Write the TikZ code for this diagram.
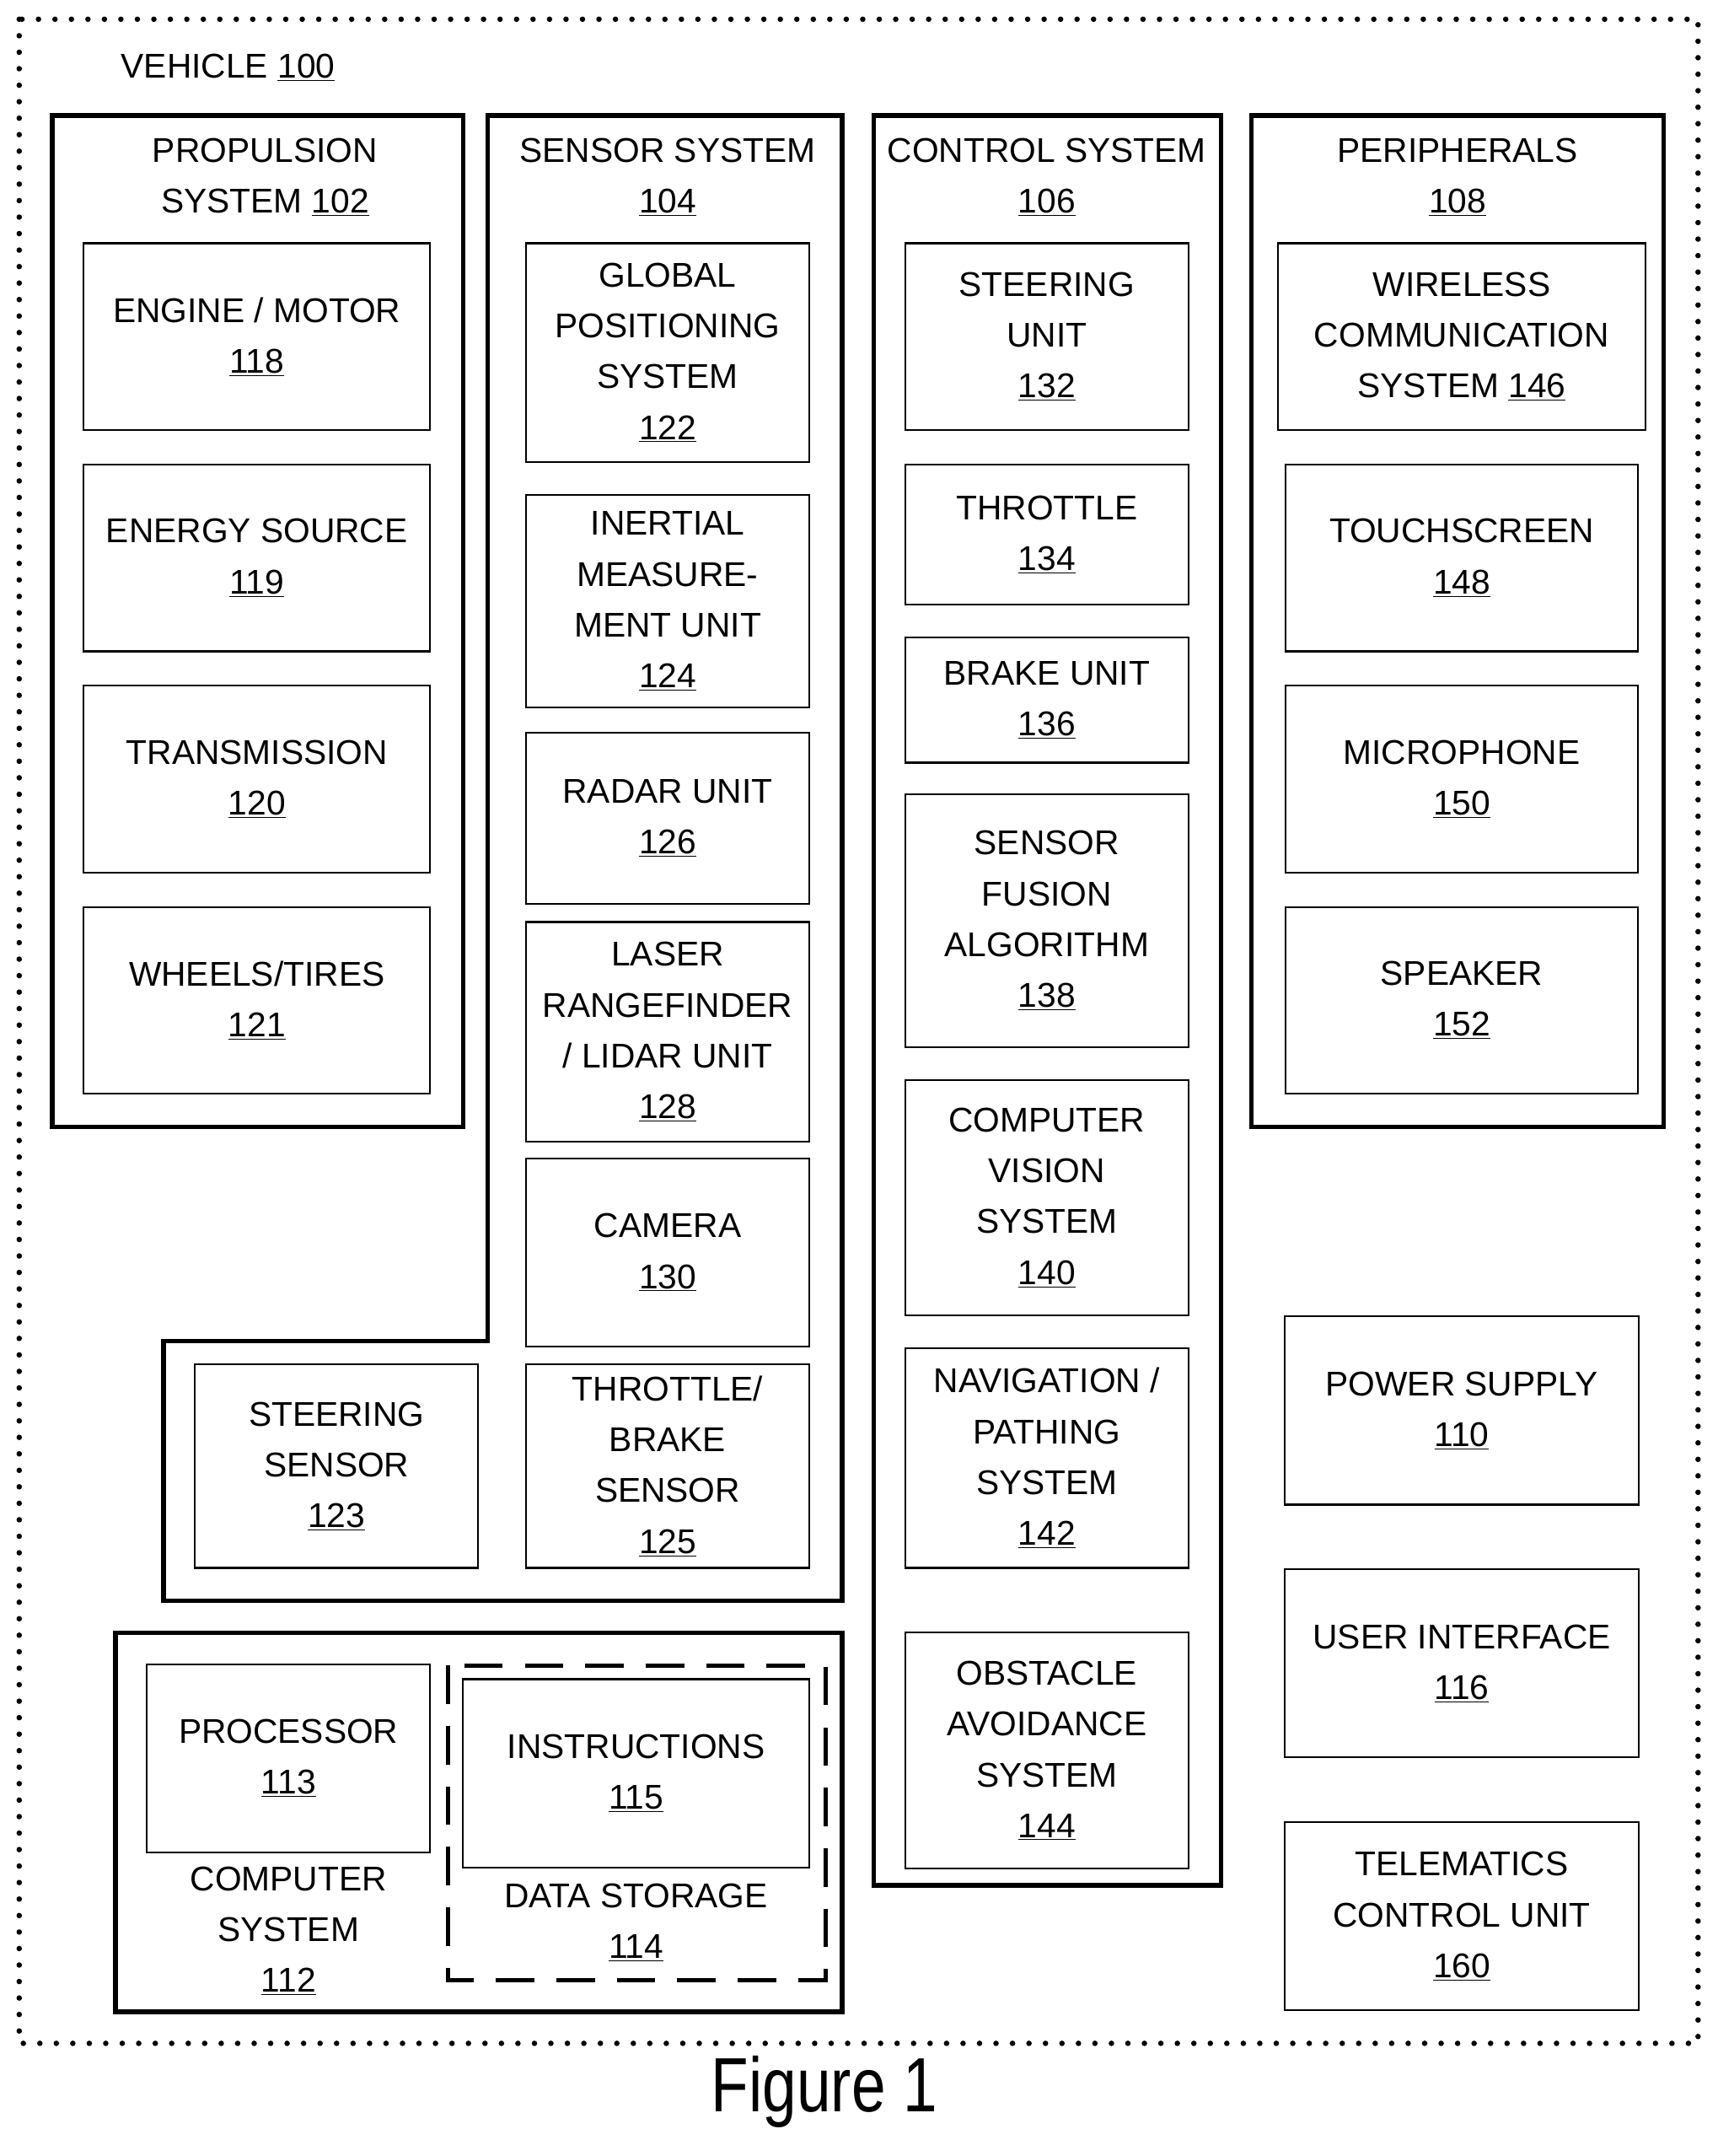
\documentclass[tikz,border=0pt]{standalone}
\usepackage{fontspec}
\setmainfont{Liberation Sans}
\tikzset{
  blk/.style={draw, line width=1.3pt},
  grp/.style={draw, line width=3.2pt},
  lbl/.style={align=center, inner sep=0pt, font=\fontsize{25}{37}\selectfont},
}
% box with a centred label
\newcommand\blk[6]{%
  \draw[blk] (#2,#3) rectangle (#4,#5);
  \node[lbl] (#1) at ({(#2+#4)/2},{(#3+#5)/2}) {#6};}
\newcommand\ul[1]{\underline{#1}}
\begin{document}
\begin{tikzpicture}[x=1pt,y=1pt,yscale=-1]
\useasboundingbox (0,0) rectangle (1250,1569);

% vehicle
\draw[line width=4pt, dash pattern=on 0pt off 12pt, line cap=round] (14,14) rectangle (1236,1487);
\node[lbl, anchor=west] (veh) at (88,49) {VEHICLE \ul{100}};

% propulsion
\draw[grp] (38,84) rectangle (337,820);
\node[lbl] (prop) at (193,129) {PROPULSION\\SYSTEM \ul{102}};
\blk{eng}{61}{177}{313}{313}{ENGINE / MOTOR\\\ul{118}}
\blk{ener}{61}{338}{313}{474}{ENERGY SOURCE\\\ul{119}}
\blk{trans}{61}{499}{313}{635}{TRANSMISSION\\\ul{120}}
\blk{whl}{61}{660}{313}{796}{WHEELS/TIRES\\\ul{121}}

% sensor system
\draw[grp] (355,84) -- (613,84) -- (613,1165) -- (119,1165) -- (119,976) -- (355,976) -- cycle;
\node[lbl] (sens) at (486,129) {SENSOR SYSTEM\\\ul{104}};
\blk{gps}{383}{177}{589}{336}{GLOBAL\\POSITIONING\\SYSTEM\\\ul{122}}
\blk{imu}{383}{360}{589}{515}{INERTIAL\\MEASURE-\\MENT UNIT\\\ul{124}}
\blk{radar}{383}{533}{589}{658}{RADAR UNIT\\\ul{126}}
\blk{lidar}{383}{671}{589}{831}{LASER\\RANGEFINDER\\/ LIDAR UNIT\\\ul{128}}
\blk{cam}{383}{843}{589}{980}{CAMERA\\\ul{130}}
\blk{tbs}{383}{993}{589}{1141}{THROTTLE/\\BRAKE\\SENSOR\\\ul{125}}
\blk{steers}{142}{993}{348}{1141}{STEERING\\SENSOR\\\ul{123}}

% control system
\draw[grp] (636,84) rectangle (889,1372);
\node[lbl] (ctrl) at (762,129) {CONTROL SYSTEM\\\ul{106}};
\blk{steer}{659}{177}{865}{313}{STEERING\\UNIT\\\ul{132}}
\blk{thr}{659}{338}{865}{440}{THROTTLE\\\ul{134}}
\blk{brk}{659}{464}{865}{555}{BRAKE UNIT\\\ul{136}}
\blk{fus}{659}{578}{865}{762}{SENSOR\\FUSION\\ALGORITHM\\\ul{138}}
\blk{cv}{659}{786}{865}{957}{COMPUTER\\VISION\\SYSTEM\\\ul{140}}
\blk{nav}{659}{981}{865}{1141}{NAVIGATION /\\PATHING\\SYSTEM\\\ul{142}}
\blk{obs}{659}{1188}{865}{1360}{OBSTACLE\\AVOIDANCE\\SYSTEM\\\ul{144}}

% peripherals
\draw[grp] (911,84) rectangle (1211,820);
\node[lbl] (peri) at (1061,129) {PERIPHERALS\\\ul{108}};
\blk{wls}{930}{177}{1198}{313}{WIRELESS\\COMMUNICATION\\SYSTEM \ul{146}}
\blk{tch}{936}{338}{1192}{474}{TOUCHSCREEN\\\ul{148}}
\blk{mic}{936}{499}{1192}{635}{MICROPHONE\\\ul{150}}
\blk{spk}{936}{660}{1192}{796}{SPEAKER\\\ul{152}}

\blk{pwr}{935}{958}{1193}{1095}{POWER SUPPLY\\\ul{110}}
\blk{ui}{935}{1142}{1193}{1279}{USER INTERFACE\\\ul{116}}
\blk{tcu}{935}{1326}{1193}{1463}{TELEMATICS\\CONTROL UNIT\\\ul{160}}

% computer system
\draw[grp] (84,1188) rectangle (613,1464);
\blk{proc}{107}{1211}{313}{1348}{PROCESSOR\\\ul{113}}
\node[lbl] (comp) at (210,1405) {COMPUTER\\SYSTEM\\\ul{112}};
\draw[line width=3.2pt, dash pattern=on 28pt off 16pt] (326,1212) rectangle (601,1441);
\blk{instr}{337}{1222}{589}{1359}{INSTRUCTIONS\\\ul{115}}
\node[lbl] (stor) at (463,1399) {DATA STORAGE\\\ul{114}};

\node[font=\fontsize{56}{60}\selectfont, inner sep=0pt, xscale=0.8] (fig) at (600,1522) {Figure 1};
\end{tikzpicture}
\end{document}
